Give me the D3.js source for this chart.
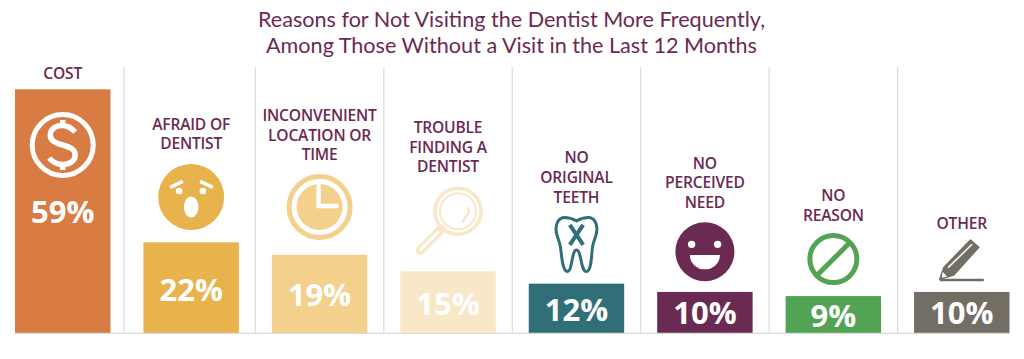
<!DOCTYPE html>
<html>
<head>
<meta charset="utf-8">
<script src="https://cdn.jsdelivr.net/npm/d3@7"></script>
<style>
  html, body { margin: 0; padding: 0; background: #fff; }
  svg { display: block; }
  .title { font-family: "Lato", sans-serif; font-size: 21.6px; fill: #6b2a52; text-anchor: middle; }
  .label { font-family: "Open Sans", sans-serif; font-weight: 600; font-size: 15.6px; letter-spacing: -0.2px; fill: #6b2a52; text-anchor: middle; }
  .pct { font-family: "Open Sans", sans-serif; font-weight: 700; font-size: 31px; fill: #fff; text-anchor: middle; }
</style>
</head>
<body>
<div id="chart"></div>
<script>
const titleLines = [
  'Reasons for Not Visiting the Dentist More Frequently,',
  'Among Those Without a Visit in the Last 12 Months',
];
const categories = ['cost', 'afraid', 'inconvenient', 'trouble', 'teeth', 'need', 'reason', 'other'];
const values = [59, 22, 19, 15, 12, 10, 9, 10];
const labels = [
  ['COST'],
  ['AFRAID OF', 'DENTIST'],
  ['INCONVENIENT', 'LOCATION OR', 'TIME'],
  ['TROUBLE', 'FINDING A', 'DENTIST'],
  ['NO', 'ORIGINAL', 'TEETH'],
  ['NO', 'PERCEIVED', 'NEED'],
  ['NO', 'REASON'],
  ['OTHER'],
];
const palette = ['#d87c43', '#e8b24c', '#f3d08c', '#f8e8c8', '#316f78', '#6b2a52', '#52a354', '#736e65'];

// how far above the bar top things sit (negative = inside the bar)
const labelGap = { cost: 10, afraid: 93, inconvenient: 94.3, trouble: 99, teeth: 81, need: 84, reason: 75, other: 62.7 };
const iconGap = { cost: -55.7, afraid: 45.3, inconvenient: 47.7, trouble: 60, teeth: 38.7, need: 40.3, reason: 37, other: 31 };
const pctGap = { cost: -134, afraid: -58.4, inconvenient: -51.7, trouble: -43.7, teeth: -37, need: -32.3, reason: -30.7, other: -32.3 };

const width = 1024;
const height = 359;
const lineHeight = 19.7;

const svg = d3.select('#chart').append('svg').attr('width', width).attr('height', height);

const x = d3.scaleBand().domain(categories).range([15, 1009.5]).paddingInner(0.257).paddingOuter(0);
const y = d3.scaleLinear().domain([0, 59]).range([333.3, 89.3]);
const color = d3.scaleOrdinal(categories, palette);
const valueOf = new Map(categories.map((c, i) => [c, values[i]]));

// title
svg.append('g').selectAll('text')
  .data(titleLines)
  .join('text')
  .attr('class', 'title')
  .attr('x', 511.5)
  .attr('y', (d, i) => 26.5 + i * 26.5)
  .text((d) => d);

// dividers sit in the gaps between bars
const dividers = categories.slice(1);
svg.append('g').selectAll('line')
  .data(dividers)
  .join('line')
  .attr('x1', (d, i) => x(d) - x.step() * 0.1285 - (i === 0 ? 3 : 0))
  .attr('x2', (d, i) => x(d) - x.step() * 0.1285 - (i === 0 ? 3 : 0))
  .attr('y1', 67)
  .attr('y2', y(0))
  .attr('stroke', '#dcdcd6')
  .attr('stroke-width', 1.2);

// bars
svg.append('g').selectAll('rect')
  .data(categories)
  .join('rect')
  .attr('x', (d) => x(d))
  .attr('y', (d) => y(valueOf.get(d)))
  .attr('width', x.bandwidth())
  .attr('height', (d) => y(0) - y(valueOf.get(d)))
  .attr('fill', (d) => color(d));

svg.append('line')
  .attr('x1', x.range()[0])
  .attr('x2', x.range()[1])
  .attr('y1', y(0))
  .attr('y2', y(0))
  .attr('stroke', '#dcdcd6')
  .attr('stroke-width', 1.2);

// percent labels
svg.append('g').selectAll('text')
  .data(categories)
  .join('text')
  .attr('class', 'pct')
  .attr('x', (d) => x(d) + x.bandwidth() / 2)
  .attr('y', (d) => y(valueOf.get(d)) - pctGap[d])
  .text((d) => valueOf.get(d) + '%');

// category labels
const labelGroups = svg.append('g').selectAll('text')
  .data(categories)
  .join('text')
  .attr('class', 'label');
labelGroups.selectAll('tspan')
  .data((d, i) => labels[i].map((line, j) => ({ cat: d, line, up: labels[i].length - 1 - j })))
  .join('tspan')
  .attr('x', (d) => x(d.cat) + x.bandwidth() / 2)
  .attr('y', (d) => y(valueOf.get(d.cat)) - labelGap[d.cat] - d.up * lineHeight)
  .text((d) => d.line);

// icons, each drawn around its own centre
const icons = {
  cost(g) {
    g.append('circle').attr('r', 30.5).attr('fill', 'none').attr('stroke', '#fff').attr('stroke-width', 5);
    g.append('path')
      .attr('d', 'M12.5,-13 C8,-18 3,-19.5 -1,-19.5 C-8,-19.5 -12.5,-15 -12.5,-10 C-12.5,-4 -7,-2 0,0 C7,2 12.5,4 12.5,10 C12.5,16 7,19.5 0,19.5 C-5,19.5 -10,17 -13.5,13 M0,-25 V-19 M0,19 V25')
      .attr('fill', 'none').attr('stroke', '#fff').attr('stroke-width', 5.5);
  },
  afraid(g, c) {
    g.append('circle').attr('r', 33).attr('fill', c);
    g.append('path').attr('d', 'M-21,-9.7 L-8.3,-15.7 M9,-15.7 L21.7,-9.7')
      .attr('stroke', '#fff').attr('stroke-width', 3.5).attr('fill', 'none');
    g.append('circle').attr('cx', -12).attr('cy', -6).attr('r', 3.3).attr('fill', '#fff');
    g.append('circle').attr('cx', 11.7).attr('cy', -6).attr('r', 3.3).attr('fill', '#fff');
    g.append('ellipse').attr('cy', 10).attr('rx', 7.3).attr('ry', 10.5).attr('fill', '#fff');
  },
  inconvenient(g, c) {
    g.append('circle').attr('r', 30.5).attr('fill', 'none').attr('stroke', c).attr('stroke-width', 5);
    g.append('circle').attr('r', 23).attr('fill', c);
    g.append('path').attr('d', 'M-1,-21 V-1 H17')
      .attr('fill', 'none').attr('stroke', '#fff').attr('stroke-width', 4.5).attr('stroke-linecap', 'round');
  },
  trouble(g, c) {
    g.append('circle').attr('cx', 10).attr('r', 23).attr('fill', 'none').attr('stroke', c).attr('stroke-width', 3.5);
    g.append('circle').attr('cx', 10).attr('r', 18).attr('fill', 'none').attr('stroke', c).attr('stroke-width', 2);
    g.append('path').attr('d', 'M-7,18 L-28,39').attr('stroke', c).attr('stroke-width', 9).attr('stroke-linecap', 'round');
    g.append('path').attr('d', 'M-10,21 L-27,38').attr('stroke', '#fff').attr('stroke-width', 3).attr('stroke-linecap', 'round');
    g.append('path').attr('d', 'M20,-4 C22,3 19,4 17,6 C16,8 16,9 14,11').attr('fill', 'none').attr('stroke', c).attr('stroke-width', 2.5);
  },
  teeth(g, c) {
    g.append('path')
      .attr('d', 'M0,-24 C-5,-27 -9,-27.5 -12,-27.5 C-18,-27.5 -20.5,-21 -20.5,-16 C-20.5,-9 -17,-5 -16,2 C-15,10 -14,26.5 -9,26.5 C-4,26.5 -5,5 0,5 C5,5 4,26.5 10,26.5 C15,26.5 15,10 16,2 C17,-5 20.5,-9 20.5,-16 C20.5,-21 18,-27.5 12,-27.5 C9,-27.5 5,-27 0,-24 Z')
      .attr('fill', 'none').attr('stroke', c).attr('stroke-width', 3);
    g.append('path').attr('d', 'M-6.7,-20 L6.7,0 M6.7,-20 L-6.7,0')
      .attr('stroke', c).attr('stroke-width', 4).attr('fill', 'none');
  },
  need(g, c) {
    g.append('circle').attr('r', 29.5).attr('fill', c);
    g.append('circle').attr('cx', -13.3).attr('cy', -7.3).attr('r', 3.7).attr('fill', '#fff');
    g.append('circle').attr('cx', 12.7).attr('cy', -7.3).attr('r', 3.7).attr('fill', '#fff');
    g.append('path').attr('d', 'M-15,3.3 H15 A15,14.4 0 0 1 -15,3.3 Z').attr('fill', '#fff');
  },
  reason(g, c) {
    g.append('circle').attr('r', 23.5).attr('fill', 'none').attr('stroke', c).attr('stroke-width', 5);
    g.append('path').attr('d', 'M-16,16 L16,-16').attr('stroke', c).attr('stroke-width', 5);
  },
  other(g, c) {
    g.append('path').attr('d', 'M-22,18.3 L-18,6.7 L8.7,-21 L17,-13.7 L-8,14 Z')
      .attr('fill', c).attr('stroke', c).attr('stroke-width', 1.5).attr('stroke-linejoin', 'round');
    g.append('path').attr('d', 'M-13.7,6.7 L10.3,-16.7').attr('stroke', '#fff').attr('stroke-width', 1.5);
    g.append('path').attr('d', 'M-19,10.7 L-14.7,15.7 L-20,16.7 Z').attr('fill', '#fff');
    g.append('path').attr('d', 'M-22,19 H22').attr('stroke', c).attr('stroke-width', 2.5);
  },
};

svg.append('g').selectAll('g')
  .data(categories)
  .join('g')
  .attr('transform', (d) => `translate(${x(d) + x.bandwidth() / 2},${y(valueOf.get(d)) - iconGap[d]})`)
  .each(function (d) {
    icons[d](d3.select(this), color(d));
  });
</script>
</body>
</html>
